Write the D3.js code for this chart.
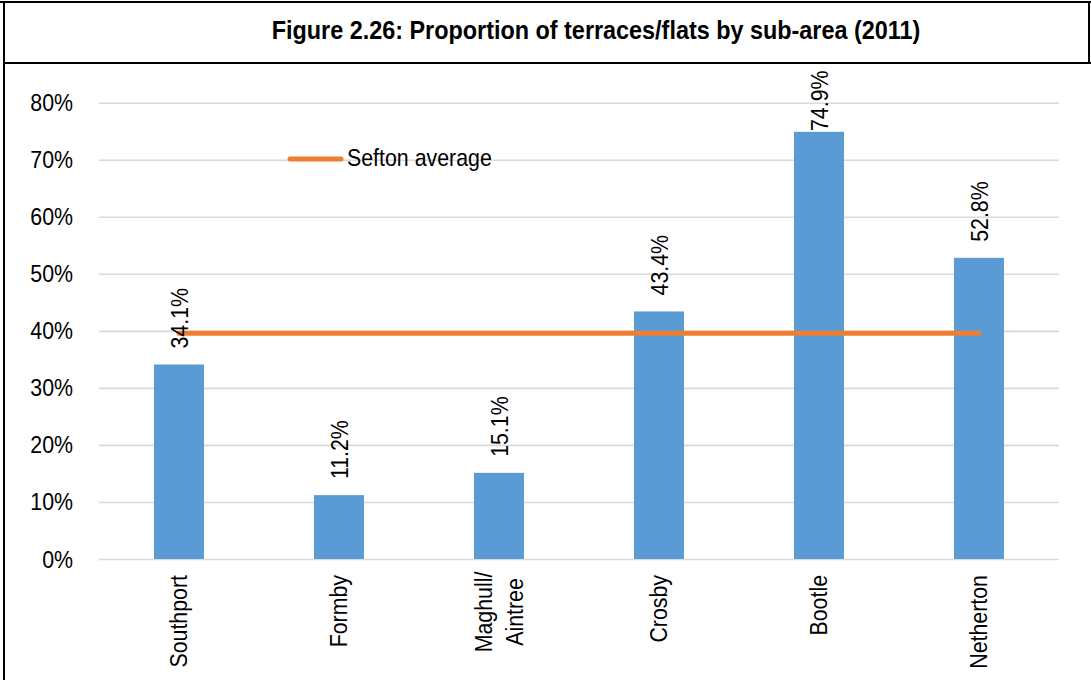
<!DOCTYPE html>
<html>
<head>
<meta charset="utf-8">
<script src="https://cdn.jsdelivr.net/npm/d3@7"></script>
<style>
  html, body { margin: 0; padding: 0; background: #fff; }
  svg { display: block; font-family: "Liberation Sans", Arial, Helvetica, sans-serif; }
</style>
</head>
<body>
<svg id="chart" width="1091" height="680"></svg>
<script>
// ---- data ----
const title = "Figure 2.26: Proportion of terraces/flats by sub-area (2011)";
const categories = [["Southport"], ["Formby"], ["Maghull/", "Aintree"], ["Crosby"], ["Bootle"], ["Netherton"]];
const values = [34.1, 11.2, 15.1, 43.4, 74.9, 52.8];
const averageLabel = "Sefton average";
const averageValue = 39.6;
const yTicks = [0, 10, 20, 30, 40, 50, 60, 70, 80];

// ---- layout ----
const svg = d3.select("#chart");
const sx = 0.89; // narrow glyph look
const plot = { left: 99, right: 1059, top: 102.7, bottom: 559 };

const keys = categories.map(c => c.join(" "));
const x = d3.scaleBand().domain(keys).range([plot.left, plot.right])
  .paddingInner(0.6875).paddingOuter(0.34375);
const y = d3.scaleLinear().domain([0, 80]).range([plot.bottom, plot.top]);

// frame
svg.append("line").attr("x1", 0).attr("x2", 1091).attr("y1", 2).attr("y2", 2)
  .attr("stroke", "#000").attr("stroke-width", 2);
svg.append("line").attr("x1", 4).attr("x2", 4).attr("y1", 1).attr("y2", 680)
  .attr("stroke", "#000").attr("stroke-width", 2);
svg.append("line").attr("x1", 1089).attr("x2", 1089).attr("y1", 1).attr("y2", 64)
  .attr("stroke", "#000").attr("stroke-width", 2);
svg.append("line").attr("x1", 4).attr("x2", 1091).attr("y1", 63).attr("y2", 63)
  .attr("stroke", "#000").attr("stroke-width", 2);

// title
svg.append("text")
  .attr("transform", `translate(596,39) scale(0.9,1)`)
  .attr("text-anchor", "middle")
  .attr("font-size", 26).attr("font-weight", "bold").attr("fill", "#000")
  .text(title);

// gridlines + y axis labels
const yAxis = d3.axisLeft(y).tickValues(yTicks).tickSize(-(plot.right - plot.left))
  .tickFormat(d => d + "%");
const gy = svg.append("g").attr("transform", `translate(${plot.left},0)`).call(yAxis);
gy.select(".domain").remove();
gy.selectAll(".tick line").attr("stroke", "#d9d9d9").attr("stroke-width", 1.6);
gy.selectAll(".tick text").remove();
yTicks.forEach(t => {
  svg.append("text")
    .attr("transform", `translate(73,${y(t) + 8.5}) scale(${sx},1)`)
    .attr("text-anchor", "end").attr("font-size", 24).attr("fill", "#000")
    .text(t + "%");
});

// bars
svg.append("g").selectAll("rect").data(values).join("rect")
  .attr("x", (d, i) => x(keys[i]))
  .attr("y", d => y(d))
  .attr("width", x.bandwidth())
  .attr("height", d => plot.bottom - y(d))
  .attr("fill", "#5b9bd5");

// average line
const cx = i => x(keys[i]) + x.bandwidth() / 2;
svg.append("line")
  .attr("x1", cx(0)).attr("x2", cx(keys.length - 1))
  .attr("y1", y(averageValue)).attr("y2", y(averageValue))
  .attr("stroke", "#ed7d31").attr("stroke-width", 5).attr("stroke-linecap", "round");

// value labels (rotated)
values.forEach((v, i) => {
  const start = Math.max(y(v) - 16, 131);
  svg.append("text")
    .attr("transform", `translate(${cx(i) + 9},${start}) rotate(-90) scale(${sx},1)`)
    .attr("text-anchor", "start").attr("font-size", 24).attr("fill", "#000")
    .text(v.toFixed(1) + "%");
});

// category labels (rotated)
categories.forEach((lines, i) => {
  const n = lines.length;
  lines.forEach((ln, j) => {
    const bx = cx(i) + 8 + (j - (n - 1) / 2) * 31;
    const multi = n > 1;
    svg.append("text")
      .attr("transform", `translate(${bx},${multi ? 612 : 575}) rotate(-90) scale(${sx},1)`)
      .attr("text-anchor", multi ? "middle" : "end")
      .attr("font-size", 24).attr("fill", "#000")
      .text(ln);
  });
});

// legend
svg.append("line").attr("x1", 290).attr("x2", 341).attr("y1", 159).attr("y2", 159)
  .attr("stroke", "#ed7d31").attr("stroke-width", 5).attr("stroke-linecap", "round");
svg.append("text")
  .attr("transform", `translate(347,166) scale(${sx},1)`)
  .attr("font-size", 24).attr("fill", "#000")
  .text(averageLabel);
</script>
</body>
</html>
